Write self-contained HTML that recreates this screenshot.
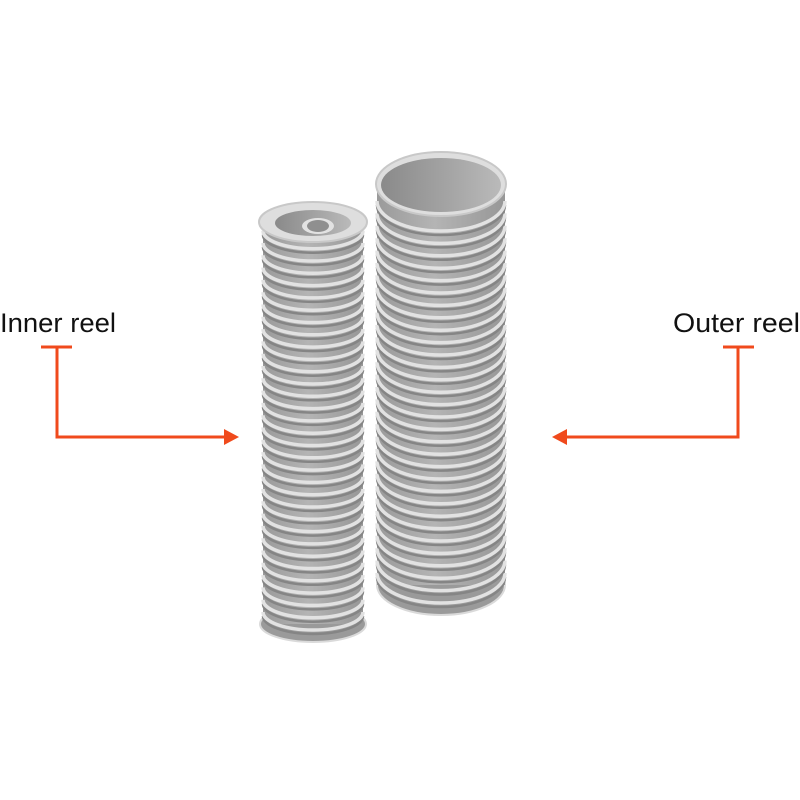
<!DOCTYPE html>
<html><head><meta charset="utf-8"><style>
html,body{margin:0;padding:0;background:#fff;}
svg{display:block}
text{font-family:"Liberation Sans",sans-serif;}
</style></head><body>
<svg id="s" width="800" height="800" viewBox="0 0 800 800" xmlns="http://www.w3.org/2000/svg">
<defs>
<linearGradient id="gb" x1="0" x2="1" y1="0" y2="0">
<stop offset="0" stop-color="#9a9a9a"/><stop offset="0.45" stop-color="#b4b4b4"/><stop offset="1" stop-color="#979797"/>
</linearGradient>
<linearGradient id="gi" x1="0" x2="1" y1="0" y2="0">
<stop offset="0" stop-color="#8a8a8a"/><stop offset="0.6" stop-color="#a6a6a6"/><stop offset="1" stop-color="#bababa"/>
</linearGradient>
</defs>
<g id="inner"></g>
<g id="outer"></g>
<text x="0" y="332" font-size="27" fill="#111" textLength="116" lengthAdjust="spacingAndGlyphs">Inner reel</text>
<text x="673" y="332" font-size="27" fill="#111" textLength="127" lengthAdjust="spacingAndGlyphs">Outer reel</text>
<g stroke="#f04a1c" stroke-width="3" fill="none">
<path d="M41 347H72M57 347V437H226"/>
<path d="M723 347H754M738 347V437H566"/>
</g>
<polygon points="239,437 224,429 224,445" fill="#f04a1c"/>
<polygon points="552,437 567,429 567,445" fill="#f04a1c"/>
</svg>
<script>
const NS="http://www.w3.org/2000/svg";
function el(p,t,a){const e=document.createElementNS(NS,t);for(const k in a)e.setAttribute(k,a[k]);p.appendChild(e);return e;}
function reel(g,cx,rx,ry,top,bot,spacing,isOuter){
  el(g,"ellipse",{cx:cx,cy:bot,rx:rx+(isOuter?0:3),ry:ry,fill:"#9a9a9a",stroke:"#dadada","stroke-width":2});
  el(g,"rect",{x:cx-rx,y:top,width:2*rx,height:bot-top,fill:"url(#gb)"});
  for(let y=bot-8;y>top+ry*0.6;y-=spacing){
    el(g,"path",{d:`M${cx-rx} ${y} A${rx} ${ry} 0 0 0 ${cx+rx} ${y}`,fill:"none",stroke:"#858585","stroke-width":2.5});
    el(g,"path",{d:`M${cx-rx} ${y-4} A${rx} ${ry} 0 0 0 ${cx+rx} ${y-4}`,fill:"none",stroke:"#e2e2e2","stroke-width":3.5});
  }
  el(g,"ellipse",{cx:cx,cy:top,rx:rx+(isOuter?1:4),ry:ry+2,fill:"#dedede",stroke:"#c8c8c8","stroke-width":2});
  el(g,"ellipse",{cx:cx,cy:top+(isOuter?1:1),rx:rx-(isOuter?4:12),ry:ry-(isOuter?3:5),fill:"url(#gi)"});
  if(!isOuter){
    el(g,"ellipse",{cx:cx+5,cy:top+4,rx:16,ry:8,fill:"#e2e2e2"});
    el(g,"ellipse",{cx:cx+5,cy:top+4,rx:11,ry:6,fill:"#8f8f8f"});
  }
}
reel(document.getElementById("outer"),441,64,30,184,585,12.4,true);
reel(document.getElementById("inner"),313,50,18,222,624,12.3,false);
</script>
</body></html>
